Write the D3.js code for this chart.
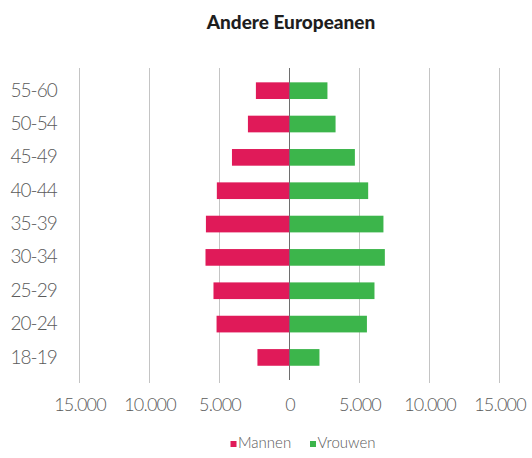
<!DOCTYPE html>
<html>
<head>
<meta charset="utf-8">
<script src="https://cdn.jsdelivr.net/npm/d3@7"></script>
<style>
  html, body { margin: 0; padding: 0; background: #fff; }
  svg { display: block; }
  text { font-family: Lato, "Open Sans", sans-serif; }
</style>
</head>
<body>
<svg id="chart" width="532" height="458"></svg>
<script>
const title = "Andere Europeanen";
const categories = ["55-60", "50-54", "45-49", "40-44", "35-39", "30-34", "25-29", "20-24", "18-19"];
const mannen = [2400, 2970, 4110, 5190, 5970, 6000, 5430, 5210, 2290];
const vrouwen = [2710, 3290, 4670, 5620, 6710, 6810, 6070, 5530, 2140];
const seriesNames = ["Mannen", "Vrouwen"];
const seriesColors = ["#e01a59", "#3cb54b"];
const tickValues = [-15000, -10000, -5000, 0, 5000, 10000, 15000];

const svg = d3.select("#chart");
const fmt = v => d3.format(",")(Math.abs(v)).replace(/,/g, ".");

const x = d3.scaleLinear().domain([-15000, 15000]).range([79.5, 499.5]);
const y = d3.scaleBand().domain(categories).range([74, 374.1]).paddingInner(0.5).paddingOuter(0.25);

const gridTop = 68, gridBottom = 383;

// title
svg.append("text")
  .attr("x", 291).attr("y", 29)
  .attr("text-anchor", "middle")
  .attr("font-size", 19).attr("font-weight", 900)
  .attr("fill", "#1e1e1e")
  .text(title);

// grid lines
svg.append("g").selectAll("line")
  .data(tickValues.filter(d => d !== 0))
  .join("line")
  .attr("x1", d => x(d)).attr("x2", d => x(d))
  .attr("y1", gridTop).attr("y2", gridBottom)
  .attr("stroke", "#c4c4c4").attr("stroke-width", 1);

// x axis tick labels
const xAxis = d3.axisBottom(x).tickValues(tickValues).tickSize(0).tickPadding(0).tickFormat(fmt);
const gx = svg.append("g").attr("transform", `translate(0,${gridBottom + 15.5})`).call(xAxis);
gx.select(".domain").remove();
gx.selectAll("text")
  .attr("font-size", 18).attr("font-weight", 300)
  .attr("letter-spacing", -0.8)
  .attr("fill", "#5a5a5a")
  .attr("font-family", "Lato, sans-serif")
  .attr("dy", "0.71em")
  .attr("y", 0);

// y axis labels
const yAxis = d3.axisLeft(y).tickSize(0).tickPadding(0);
const gy = svg.append("g").attr("transform", "translate(57,0)").call(yAxis);
gy.select(".domain").remove();
gy.selectAll("text")
  .attr("font-size", 19).attr("font-weight", 300)
  .attr("letter-spacing", -0.9)
  .attr("fill", "#5a5a5a")
  .attr("font-family", "Lato, sans-serif");

// bars
const rows = categories.map((c, i) => ({ c, m: mannen[i], v: vrouwen[i] }));
svg.append("g").selectAll("rect")
  .data(rows).join("rect")
  .attr("x", d => x(-d.m)).attr("width", d => x(0) - x(-d.m))
  .attr("y", d => y(d.c)).attr("height", y.bandwidth())
  .attr("fill", seriesColors[0]);
svg.append("g").selectAll("rect")
  .data(rows).join("rect")
  .attr("x", x(0)).attr("width", d => x(d.v) - x(0))
  .attr("y", d => y(d.c)).attr("height", y.bandwidth())
  .attr("fill", seriesColors[1]);

// center line
svg.append("line")
  .attr("x1", x(0)).attr("x2", x(0))
  .attr("y1", gridTop).attr("y2", 380)
  .attr("stroke", "#6e6e6e").attr("stroke-width", 1);

// legend
const legendPos = [230.5, 310];
const lg = svg.append("g").selectAll("g")
  .data(seriesNames).join("g")
  .attr("transform", (d, i) => `translate(${legendPos[i]},0)`);
lg.append("rect").attr("x", 0).attr("y", 441).attr("width", 6).attr("height", 6)
  .attr("fill", (d, i) => seriesColors[i]);
lg.append("text").attr("x", 7.5).attr("y", 447.5)
  .attr("font-size", 15).attr("font-weight", 300)
  .attr("fill", "#5a5a5a")
  .text(d => d);
</script>
</body>
</html>
